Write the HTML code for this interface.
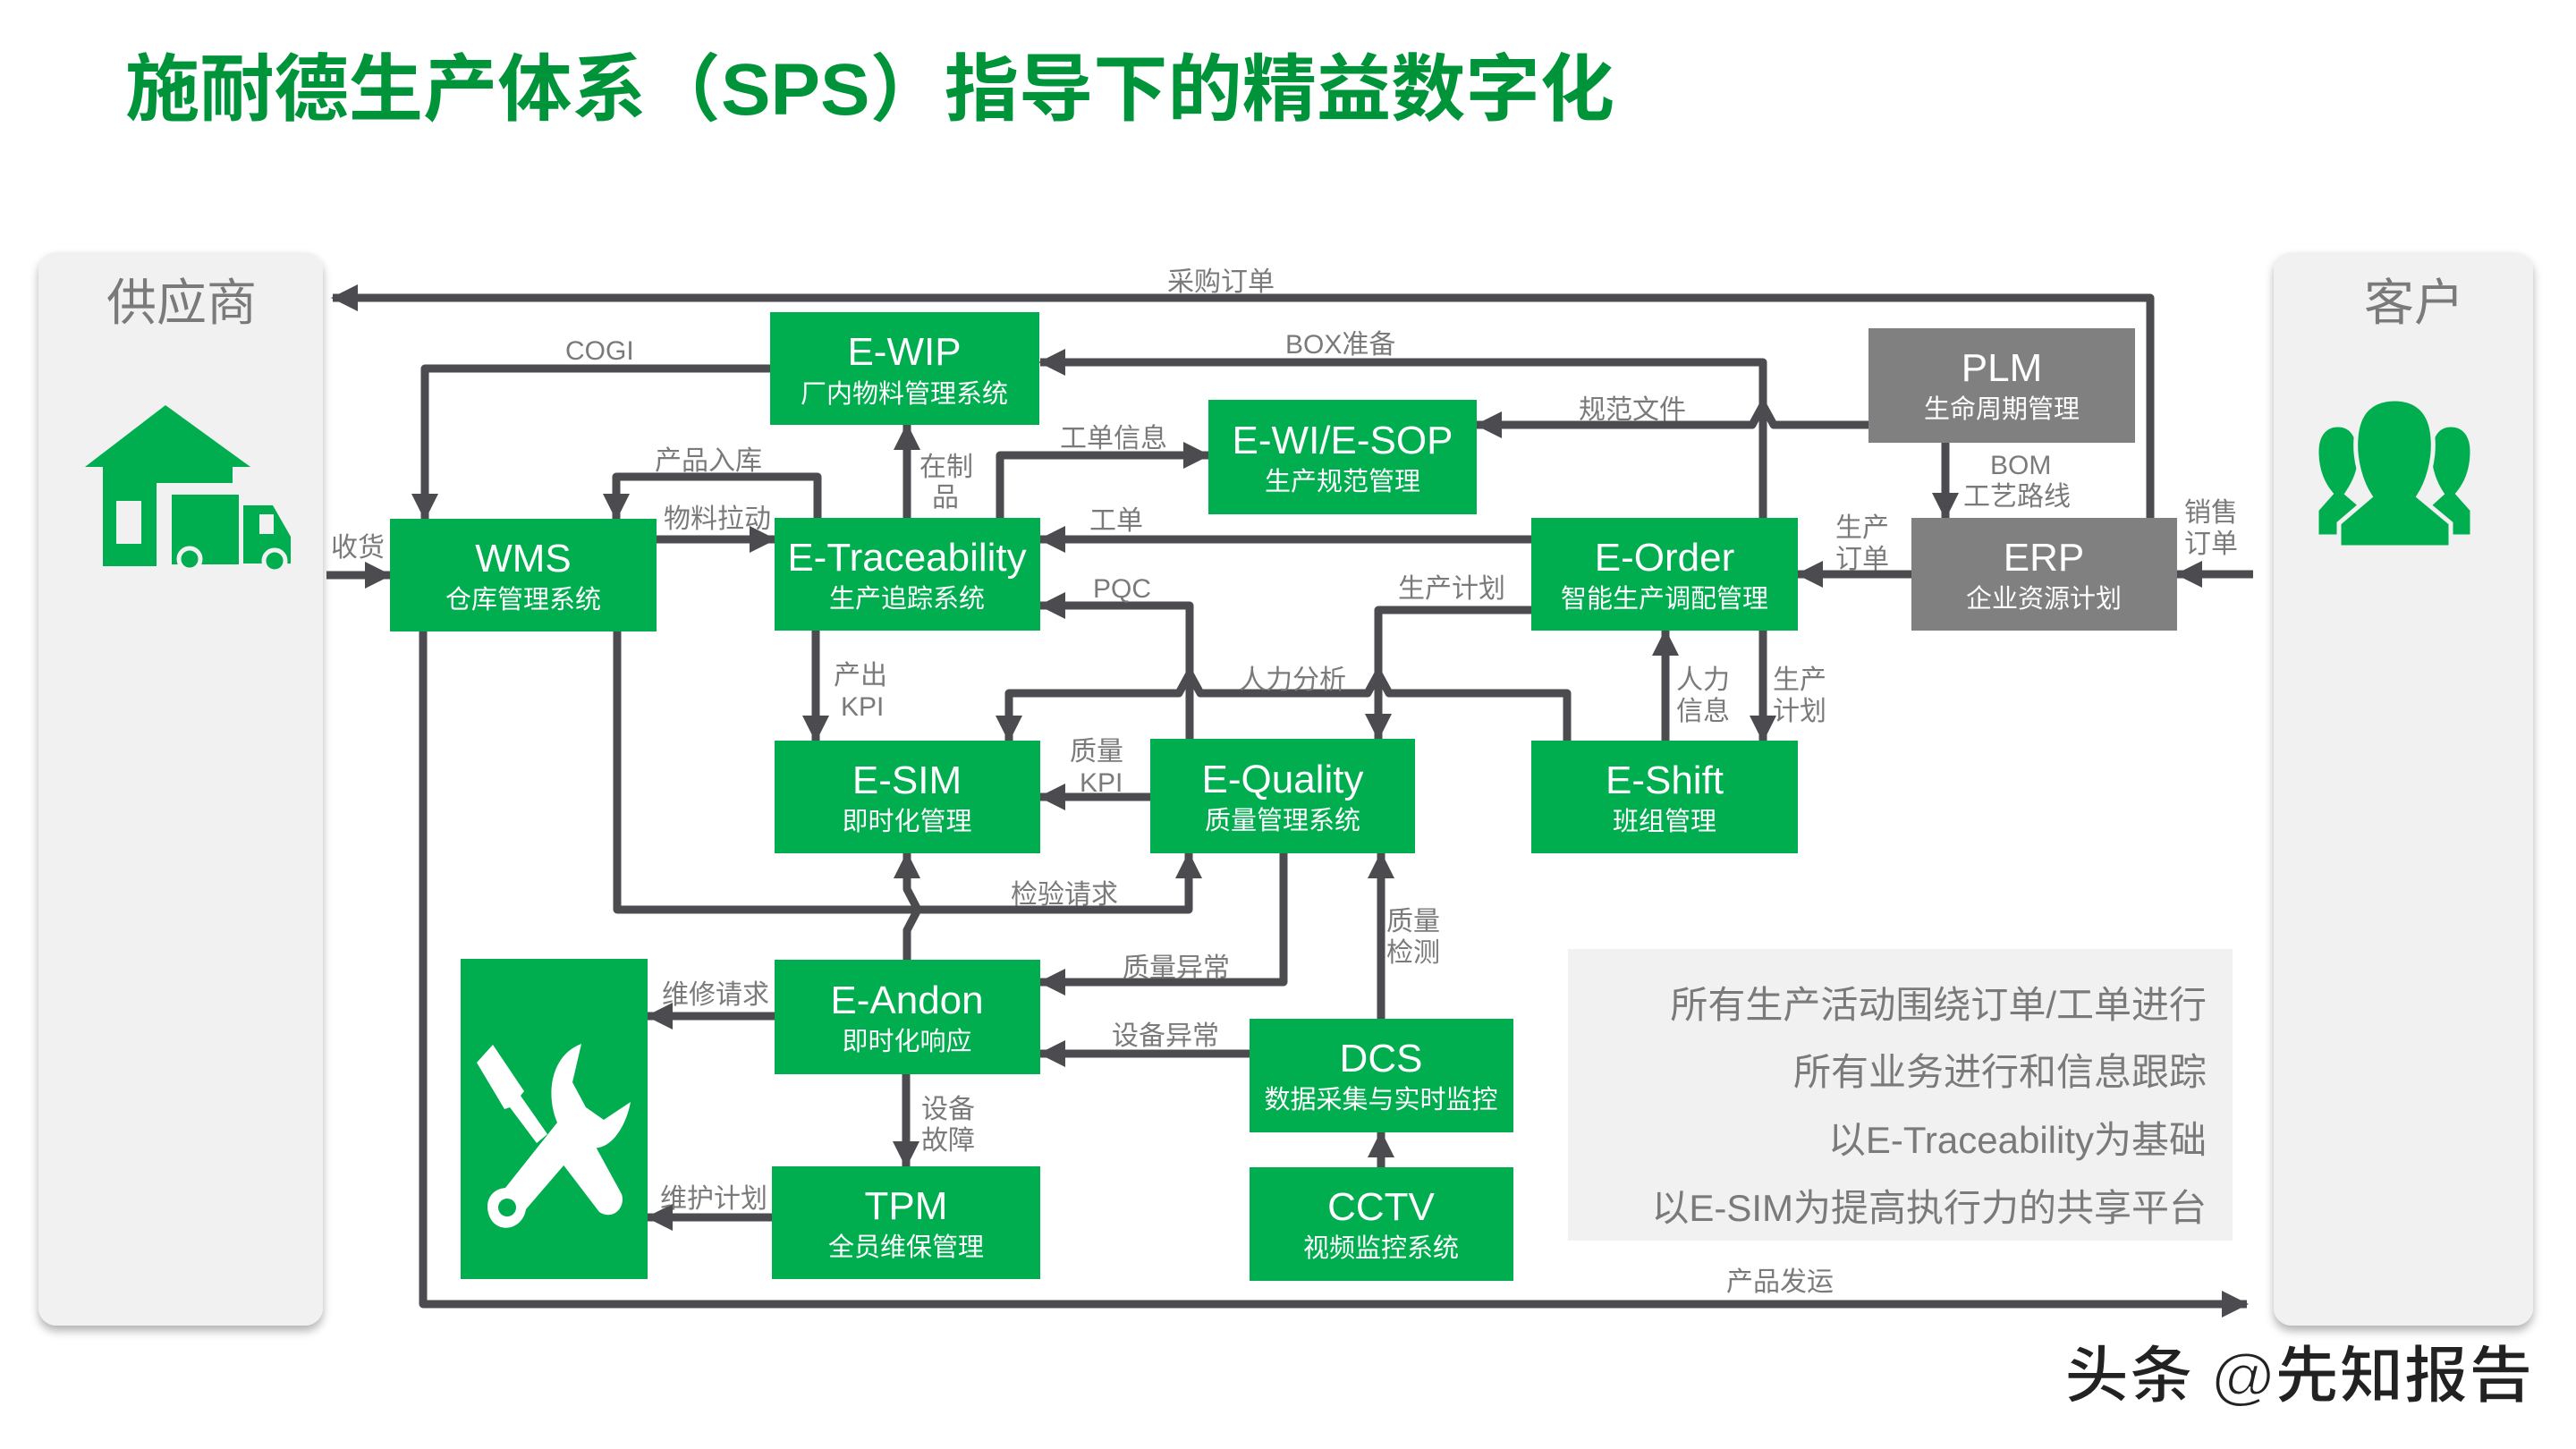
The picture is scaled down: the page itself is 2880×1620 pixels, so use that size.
<!DOCTYPE html>
<html><head><meta charset="utf-8"><style>
html,body{margin:0;padding:0;background:#fff;}
svg{display:block;}
.lb{font-family:"Liberation Sans","Noto Sans CJK SC",sans-serif;font-size:30px;fill:#7a7a7a;}
.bt{font-family:"Liberation Sans","Noto Sans CJK SC",sans-serif;font-size:44px;fill:#fff;text-anchor:middle;}
.bs{font-family:"Liberation Sans","Noto Sans CJK SC",sans-serif;font-size:29px;fill:#fff;text-anchor:middle;}
.ln{fill:none;stroke:#4b4b50;stroke-width:9;stroke-linejoin:round;marker-end:url(#a);}
.g{fill:#00ad4f;}
.p{font-family:"Liberation Sans","Noto Sans CJK SC",sans-serif;font-size:42px;fill:#7a7a7a;text-anchor:end;}
</style></head><body>
<svg width="2880" height="1620" viewBox="0 0 2880 1620" xmlns="http://www.w3.org/2000/svg">
<defs>
<marker id="a" markerWidth="30" markerHeight="30" refX="28" refY="15" orient="auto" markerUnits="userSpaceOnUse"><path d="M0,0 L30,15 L0,30 z" fill="#4b4b50"/></marker>
<filter id="sh" x="-10%" y="-5%" width="120%" height="110%"><feDropShadow dx="0" dy="6" stdDeviation="5" flood-color="#000" flood-opacity="0.3"/></filter>
</defs>
<text x="140" y="128" font-family="'Liberation Sans','Noto Sans CJK SC',sans-serif" font-size="82" font-weight="bold" fill="#00943a" textLength="1665" lengthAdjust="spacingAndGlyphs">施耐德生产体系（SPS）指导下的精益数字化</text>

<rect x="43" y="282" width="318" height="1200" rx="20" fill="#f1f1f1" filter="url(#sh)"/>
<rect x="2542" y="282" width="290" height="1200" rx="20" fill="#f1f1f1" filter="url(#sh)"/>
<text x="203" y="358" font-family="'Liberation Sans','Noto Sans CJK SC',sans-serif" font-size="56" fill="#7a7a7a" text-anchor="middle">供应商</text>
<text x="2699" y="358" font-family="'Liberation Sans','Noto Sans CJK SC',sans-serif" font-size="56" fill="#7a7a7a" text-anchor="middle">客户</text>

<!-- house & truck -->
<polygon points="95,522 185,453 280,522" class="g"/>
<rect x="115" y="520" width="145" height="20" class="g"/>
<rect x="115" y="520" width="60" height="113" class="g"/>
<rect x="130" y="560" width="28" height="48" fill="#f1f1f1"/>
<rect x="192" y="553" width="75" height="78" class="g"/>
<path d="M272,565 H305 L325,600 V630 H272 Z" class="g"/>
<rect x="290" y="575" width="16" height="22" fill="#f1f1f1"/>
<circle cx="212" cy="625" r="12" class="g" stroke="#f1f1f1" stroke-width="5"/>
<circle cx="307" cy="627" r="12" class="g" stroke="#f1f1f1" stroke-width="5"/>

<!-- people -->
<g class="g" stroke="#f1f1f1" stroke-width="5">
<path d="M2590,600 V570 L2606,552 C2596,540 2590,525 2590,505 C2590,485 2600,475 2614,475 C2628,475 2636,485 2638,505 C2640,525 2632,540 2624,552 L2645,570 V600 Z"/>
<path d="M2710,600 V570 L2730,552 C2722,540 2716,525 2716,505 C2718,485 2726,475 2740,475 C2754,475 2764,485 2764,505 C2764,525 2758,540 2748,552 L2764,570 V600 Z"/>
<path d="M2615,612 V585 L2650,555 C2640,540 2632,515 2634,490 C2636,460 2652,446 2677,446 C2702,446 2718,460 2720,490 C2722,515 2714,540 2704,555 L2740,585 V612 Z"/>
</g>

<!-- lines -->
<path class="ln" d="M2404,579 V333 H372"/>
<path class="ln" d="M1971,579 V405 H1163"/>
<path class="ln" d="M2089,475 H1983 L1971,453 L1959,475 H1651"/>
<path class="ln" d="M861,412 H475 V580"/>
<path class="ln" d="M914,579 V533 H689 V580"/>
<path class="ln" d="M734,603 H866"/>
<path class="ln" d="M365,643 H436"/>
<path class="ln" d="M1014,579 V475"/>
<path class="ln" d="M1118,579 V509 H1351"/>
<path class="ln" d="M1712,603 H1163"/>
<path class="ln" d="M1330,826 V677 H1163"/>
<path class="ln" d="M1712,682 H1541 V826"/>
<path class="ln" d="M1752,828 V775 H1553 L1541,753 L1529,775 H1342 L1330,753 L1318,775 H1128 V828"/>
<path class="ln" d="M912,705 V828"/>
<path class="ln" d="M1286,891 H1163"/>
<path class="ln" d="M2137,642 H2010"/>
<path class="ln" d="M2175,495 V579"/>
<path class="ln" d="M2519,642 H2434"/>
<path class="ln" d="M1862,828 V705"/>
<path class="ln" d="M1971,705 V828"/>
<path class="ln" d="M690,706 V1017 H1329 V954"/>
<path class="ln" d="M1014,1073 V1040 L1026,1017 L1014,994 V954"/>
<path class="ln" d="M473,706 V1458 H2512"/>
<path class="ln" d="M1435,954 V1098 H1163"/>
<path class="ln" d="M1397,1178 H1163"/>
<path class="ln" d="M866,1136 H724"/>
<path class="ln" d="M1013,1201 V1304"/>
<path class="ln" d="M863,1361 H724"/>
<path class="ln" d="M1544,1139 V954"/>
<path class="ln" d="M1544,1305 V1266"/>

<!-- labels -->
<text class="lb" x="1305" y="325">采购订单</text>
<text class="lb" x="1437" y="395">BOX准备</text>
<text class="lb" x="1765" y="468">规范文件</text>
<text class="lb" x="632" y="402">COGI</text>
<text class="lb" x="732" y="525">产品入库</text>
<text class="lb" x="742" y="590">物料拉动</text>
<text class="lb" x="370" y="622">收货</text>
<text class="lb" x="1028" y="532">在制</text>
<text class="lb" x="1042" y="566">品</text>
<text class="lb" x="1185" y="500">工单信息</text>
<text class="lb" x="1218" y="592">工单</text>
<text class="lb" x="1222" y="668">PQC</text>
<text class="lb" x="1563" y="668">生产计划</text>
<text class="lb" x="1385" y="770">人力分析</text>
<text class="lb" x="932" y="765">产出</text>
<text class="lb" x="940" y="800">KPI</text>
<text class="lb" x="1196" y="850">质量</text>
<text class="lb" x="1207" y="885">KPI</text>
<text class="lb" x="2052" y="600">生产</text>
<text class="lb" x="2052" y="635">订单</text>
<text class="lb" x="2225" y="530">BOM</text>
<text class="lb" x="2195" y="565">工艺路线</text>
<text class="lb" x="2442" y="583">销售</text>
<text class="lb" x="2442" y="618">订单</text>
<text class="lb" x="1874" y="770">人力</text>
<text class="lb" x="1874" y="805">信息</text>
<text class="lb" x="1982" y="770">生产</text>
<text class="lb" x="1982" y="805">计划</text>
<text class="lb" x="1130" y="1010">检验请求</text>
<text class="lb" x="1255" y="1092">质量异常</text>
<text class="lb" x="1243" y="1168">设备异常</text>
<text class="lb" x="740" y="1122">维修请求</text>
<text class="lb" x="1030" y="1250">设备</text>
<text class="lb" x="1030" y="1285">故障</text>
<text class="lb" x="738" y="1350">维护计划</text>
<text class="lb" x="1550" y="1040">质量</text>
<text class="lb" x="1550" y="1075">检测</text>
<text class="lb" x="1930" y="1443">产品发运</text>

<!-- boxes -->
<rect x="861" y="349" width="301" height="126" class="g"/>
<text class="bt" x="1011" y="408">E-WIP</text><text class="bs" x="1011" y="450">厂内物料管理系统</text>
<rect x="1351" y="447" width="300" height="128" class="g"/>
<text class="bt" x="1501" y="507">E-WI/E-SOP</text><text class="bs" x="1501" y="548">生产规范管理</text>
<rect x="2089" y="367" width="298" height="128" fill="#808080"/>
<text class="bt" x="2238" y="426">PLM</text><text class="bs" x="2238" y="467">生命周期管理</text>
<rect x="436" y="580" width="298" height="126" class="g"/>
<text class="bt" x="585" y="639">WMS</text><text class="bs" x="585" y="680">仓库管理系统</text>
<rect x="866" y="579" width="297" height="126" class="g"/>
<text class="bt" x="1014" y="638">E-Traceability</text><text class="bs" x="1014" y="679">生产追踪系统</text>
<rect x="1712" y="579" width="298" height="126" class="g"/>
<text class="bt" x="1861" y="638">E-Order</text><text class="bs" x="1861" y="679">智能生产调配管理</text>
<rect x="2137" y="579" width="297" height="126" fill="#808080"/>
<text class="bt" x="2285" y="638">ERP</text><text class="bs" x="2285" y="679">企业资源计划</text>
<rect x="866" y="828" width="297" height="126" class="g"/>
<text class="bt" x="1014" y="887">E-SIM</text><text class="bs" x="1014" y="928">即时化管理</text>
<rect x="1286" y="826" width="296" height="128" class="g"/>
<text class="bt" x="1434" y="886">E-Quality</text><text class="bs" x="1434" y="927">质量管理系统</text>
<rect x="1712" y="828" width="298" height="126" class="g"/>
<text class="bt" x="1861" y="887">E-Shift</text><text class="bs" x="1861" y="928">班组管理</text>
<rect x="866" y="1073" width="297" height="128" class="g"/>
<text class="bt" x="1014" y="1133">E-Andon</text><text class="bs" x="1014" y="1174">即时化响应</text>
<rect x="863" y="1304" width="300" height="126" class="g"/>
<text class="bt" x="1013" y="1363">TPM</text><text class="bs" x="1013" y="1404">全员维保管理</text>
<rect x="1397" y="1139" width="295" height="127" class="g"/>
<text class="bt" x="1544" y="1198">DCS</text><text class="bs" x="1544" y="1239">数据采集与实时监控</text>
<rect x="1397" y="1305" width="295" height="127" class="g"/>
<text class="bt" x="1544" y="1364">CCTV</text><text class="bs" x="1544" y="1405">视频监控系统</text>

<!-- tools -->
<rect x="515" y="1072" width="209" height="358" class="g"/>
<g fill="#fff">
<path d="M533,1188 L551,1168 L586,1220 L582,1225 L612,1268 L600,1278 L570,1238 L564,1240 Z"/>
<path d="M650,1167 C615,1180 610,1225 623,1255 L565,1328 C545,1330 540,1350 550,1365 C562,1380 585,1372 588,1352 L650,1280 C680,1295 700,1260 705,1232 L675,1252 L655,1238 L640,1210 Z"/>
<circle cx="567" cy="1350" r="10" fill="#00ad4f"/>
<path d="M628,1282 L655,1262 L695,1335 C700,1350 685,1365 670,1355 L628,1300 Z"/>
</g>

<!-- text panel -->
<rect x="1753" y="1061" width="743" height="326" fill="#f1f1f1"/>
<text class="p" x="2467" y="1138">所有生产活动围绕订单/工单进行</text>
<text class="p" x="2467" y="1213">所有业务进行和信息跟踪</text>
<text class="p" x="2467" y="1289">以E-Traceability为基础</text>
<text class="p" x="2467" y="1365">以E-SIM为提高执行力的共享平台</text>

<text x="2308" y="1562" font-family="'Liberation Sans','Noto Sans CJK SC',sans-serif" font-size="70" font-weight="bold" fill="#222" stroke="#fff" stroke-width="2" textLength="524" lengthAdjust="spacingAndGlyphs">头条 @先知报告</text>
</svg>
</body></html>
